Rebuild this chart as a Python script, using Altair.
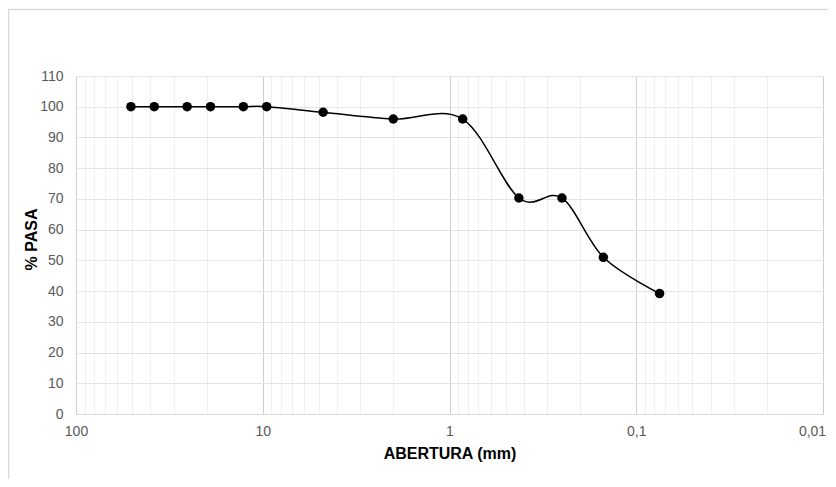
import altair as alt
import pandas as pd

# Data (granulometric curve)
abertura = [50.8, 38.1, 25.4, 19.05, 12.7, 9.525, 4.75, 2.0, 0.85, 0.425, 0.25, 0.15, 0.075]
pasa = [100, 100, 100, 100, 100, 100, 98.2, 96.0, 96.0, 70.3, 70.3, 51.0, 39.2]

decades = [100, 10, 1, 0.1, 0.01]
minor_mult = [2, 3, 4, 5, 6, 7, 8, 9]
minor = [round(d * m, 6) for d in [10, 1, 0.1, 0.01] for m in minor_mult]
y_ticks = [0, 10, 20, 30, 40, 50, 60, 70, 80, 90, 100, 110]

df = pd.DataFrame({"abertura": abertura, "pasa": pasa})

FONT = "Liberation Sans"
is_decade = "indexof([100,10,1,0.1,0.01], datum.value) >= 0"

x_enc = alt.X(
    "abertura:Q",
    scale=alt.Scale(type="log", domain=[0.01, 100], reverse=True, nice=False),
    axis=alt.Axis(
        values=decades + minor,
        labelExpr=f"{is_decade} ? replace(toString(datum.value), '.', ',') : ''",
        gridColor=alt.condition(is_decade, alt.value("#cfcfcf"), alt.value("#efefef")),
        gridWidth=1,
        ticks=False,
        tickSize=0,
        domain=True,
        domainColor="#d9d9d9",
        labelPadding=10,
        labelFontSize=14,
        labelColor="#595959",
        labelFont=FONT,
        labelOverlap=False,
        labelFlush=False,
        labelOffset=alt.condition("datum.value == 0.01", alt.value(-11), alt.value(0)),
        title="ABERTURA (mm)",
        titleFont=FONT,
        titleFontSize=16,
        titleFontWeight="bold",
        titleColor="#000000",
        titleBaseline="alphabetic",
        titleY=44,
    ),
)

y_enc = alt.Y(
    "pasa:Q",
    scale=alt.Scale(domain=[0, 110], nice=False),
    axis=alt.Axis(
        values=y_ticks,
        tickCount=12,
        gridColor="#e3e3e3",
        gridWidth=1,
        ticks=False,
        tickSize=0,
        domain=False,
        labelPadding=13,
        labelFontSize=14,
        labelColor="#595959",
        labelFont=FONT,
        labelOverlap=False,
        title="% PASA",
        titleFont=FONT,
        titleFontSize=16,
        titleFontWeight="bold",
        titleColor="#000000",
        titleBaseline="alphabetic",
        titleAngle=-90,
        titleX=-40,
        titleY=163,
        titleAlign="center",
    ),
)

base = alt.Chart(df)

line = base.mark_line(
    color="#000000", strokeWidth=1.5, interpolate="cardinal", tension=0
).encode(x=x_enc, y=y_enc)

points = base.mark_circle(size=90, color="#000000", opacity=1).encode(
    x=x_enc, y=y_enc
)

border = alt.Chart(pd.DataFrame({"a": [0]})).mark_rect(
    fill="transparent", stroke="#d9d9d9", strokeWidth=1.5
).encode(
    x=alt.value(-67.5), x2=alt.value(900), y=alt.value(-66.5), y2=alt.value(600)
)

chart = (
    alt.layer(border, line, points)
    .properties(
        width=747,
        height=338,
        autosize=alt.AutoSizeParams(type="none"),
        padding={"left": 68, "top": 68, "right": 5, "bottom": 65},
    )
    .configure_view(stroke=None)
)

chart.save("out.html", embed_options={"renderer": "svg", "actions": False})
